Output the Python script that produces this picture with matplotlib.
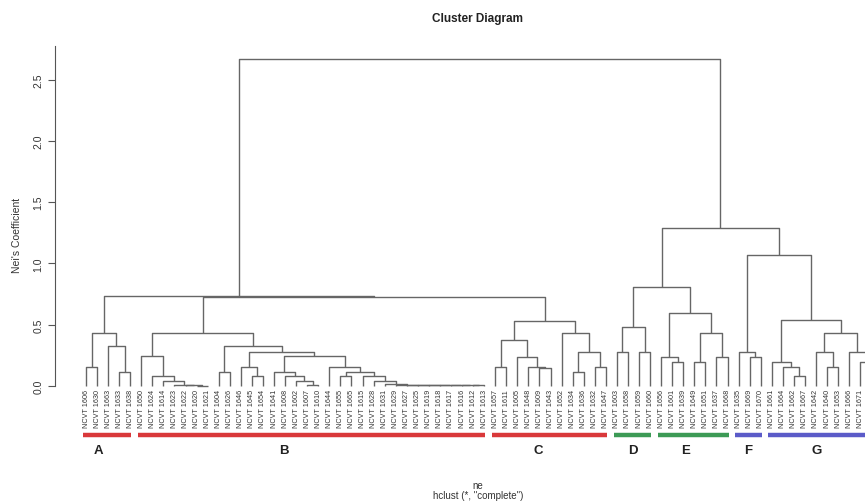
import matplotlib
matplotlib.use("Agg")
import matplotlib.pyplot as plt
import matplotlib.transforms as mtransforms
from matplotlib.collections import LineCollection

plt.rcParams['font.family'] = ['Liberation Sans', 'DejaVu Sans']

# ---------------- data ----------------
labels = [
    "NCVT 1606", "NCVT 1630", "NCVT 1663", "NCVT 1633", "NCVT 1638",
    "NCVT 1650", "NCVT 1624", "NCVT 1614", "NCVT 1623", "NCVT 1622", "NCVT 1620", "NCVT 1621",
    "NCVT 1604", "NCVT 1626", "NCVT 1646", "NCVT 1645", "NCVT 1654", "NCVT 1641", "NCVT 1608",
    "NCVT 1602", "NCVT 1607", "NCVT 1610", "NCVT 1644", "NCVT 1655", "NCVT 1665", "NCVT 1615",
    "NCVT 1628", "NCVT 1631", "NCVT 1629", "NCVT 1627", "NCVT 1625", "NCVT 1619", "NCVT 1618",
    "NCVT 1617", "NCVT 1616", "NCVT 1612", "NCVT 1613",
    "NCVT 1657", "NCVT 1611", "NCVT 1605", "NCVT 1648", "NCVT 1609", "NCVT 1643", "NCVT 1652",
    "NCVT 1634", "NCVT 1636", "NCVT 1632", "NCVT 1647",
    "NCVT 1603", "NCVT 1658", "NCVT 1659", "NCVT 1660",
    "NCVT 1656", "NCVT 1601", "NCVT 1639", "NCVT 1649", "NCVT 1651", "NCVT 1637", "NCVT 1668",
    "NCVT 1635", "NCVT 1669", "NCVT 1670",
    "NCVT 1661", "NCVT 1664", "NCVT 1662", "NCVT 1667", "NCVT 1642", "NCVT 1640", "NCVT 1653",
    "NCVT 1666", "NCVT 1671", "NCVT 1672",
]

# clusters: (merge height, left, right); leaves = 1-based index into labels
cluster_A = (0.433, (0.155, 1, 2), (0.327, 3, (0.114, 4, 5)))
chain_B0 = (0.012, 29, (0.012, 30, (0.012, 31, (0.012, 32, (0.012, 33,
            (0.012, 34, (0.012, 35, (0.012, 36, 37))))))))
cluster_B_left = (0.245, 6, (0.078, 7, (0.043, 8, (0.010, 9, (0.006, 10, (0.003, 11, 12))))))
cluster_B_right = (0.327, (0.114, 13, 14),
                   (0.280, (0.152, 15, (0.079, 16, 17)),
                    (0.245, (0.112, 18, (0.079, 19, (0.040, 20, (0.008, 21, 22)))),
                     (0.152, 23, (0.113, (0.079, 24, 25),
                                  (0.079, 26, (0.043, 27, (0.018, 28, chain_B0))))))))
cluster_B = (0.433, cluster_B_left, cluster_B_right)
cluster_C = (0.533, (0.378, (0.152, 38, 39), (0.233, 40, (0.152, 41, (0.150, 42, 43)))),
             (0.430, 44, (0.280, (0.112, 45, 46), (0.152, 47, 48))))
cluster_D = (0.484, (0.280, 49, 50), (0.280, 51, 52))
cluster_E = (0.600, (0.240, 53, (0.193, 54, 55)), (0.430, (0.193, 56, 57), (0.240, 58, 59)))
cluster_F = (0.280, 60, (0.240, 61, 62))
cluster_G = (0.537, (0.193, 63, (0.152, 64, (0.079, 65, 66))),
             (0.430, (0.280, 67, (0.152, 68, 69)), (0.280, 70, (0.193, 71, 72))))
tree = (2.67, (0.735, cluster_A, (0.725, cluster_B, cluster_C)),
        (1.287, (0.806, cluster_D, cluster_E), (1.067, cluster_F, cluster_G)))

group_names = ["A", "B", "C", "D", "E", "F", "G"]
group_first = [1, 6, 38, 49, 53, 60, 63]
group_last = [5, 37, 48, 52, 59, 62, 72]
group_colors = ["#d9383a", "#d9383a", "#d9383a", "#3c9a55", "#3c9a55", "#5b5bc8", "#5b5bc8"]
letter_x = [2.1, 18.9, 41.9, 50.4, 55.2, 60.9, 67.1]

yticks = [0.0, 0.5, 1.0, 1.5, 2.0, 2.5]

# ---------------- figure ----------------
W, H = 865, 502
fig = plt.figure(figsize=(W / 100, H / 100), dpi=100)
ax_left, ax_right = 54.6, 902.7
ax_top, ax_bot = 46.8, 400.1
ax = fig.add_axes([ax_left / W, 1 - ax_bot / H, (ax_right - ax_left) / W, (ax_bot - ax_top) / H])

n = len(labels)
ext = 0.04 * (n - 1)
ax.set_xlim(1 - ext, n + ext)
hmax = tree[0]
ax.set_ylim(-0.04 * hmax, hmax * 1.04)

segs = []


def draw(node):
    if isinstance(node, int):
        return float(node), 0.0
    h, l, r = node
    xl, hl = draw(l)
    xr, hr = draw(r)
    segs.append([(xl, hl), (xl, h), (xr, h), (xr, hr)])
    return (xl + xr) / 2, h


draw(tree)
lc = LineCollection(segs, colors="#666666", linewidths=1.0)
ax.add_collection(lc)

for s in ["top", "right", "bottom"]:
    ax.spines[s].set_visible(False)
ax.spines["left"].set_bounds(0, hmax * 1.04)
ax.spines["left"].set_color("#555555")
ax.spines["left"].set_linewidth(0.8)
ax.set_xticks([])
ax.set_yticks(yticks)
ax.set_yticklabels([f"{v:.1f}" for v in yticks], rotation=90, va="center", fontsize=7.5, color="#333333")
ax.tick_params(axis="y", length=5, width=0.8, color="#555555", pad=3)

trans = mtransforms.blended_transform_factory(ax.transData, ax.transAxes)
lab_y = (ax_bot - 390) / (ax_bot - ax_top)
for i, lab in enumerate(labels, start=1):
    ax.text(i, lab_y, lab, rotation=90, ha="center", va="top", fontsize=5.2,
            color="#333333", transform=trans, clip_on=False)

bar_y = (ax_bot - 436) / (ax_bot - ax_top)
let_y = (ax_bot - 451) / (ax_bot - ax_top)
for g, a, b, c, lx in zip(group_names, group_first, group_last, group_colors, letter_x):
    ax.plot([a - 0.3, b + 0.1], [bar_y, bar_y], color=c, lw=3.2, solid_capstyle="butt",
            transform=trans, clip_on=False)
    ax.text(lx, let_y, g, ha="center", va="center", fontsize=9.5, fontweight="bold",
            color="#222222", transform=trans, clip_on=False)

fig.text(478 / W, 1 - 19 / H, "Cluster Diagram", ha="center", va="center",
         fontsize=8.5, fontweight="bold", color="#222222")
fig.text(478 / W, 1 - 486 / H, "ne", ha="center", va="center", fontsize=7, color="#333333")
fig.text(478 / W, 1 - 496 / H, 'hclust (*, "complete")', ha="center", va="center",
         fontsize=7, color="#333333")
fig.text(17 / W, 1 - 235 / H, "Nei's Coefficient", rotation=90, ha="center", va="center",
         fontsize=7.5, color="#333333")

fig.savefig("out.png", dpi=100)
